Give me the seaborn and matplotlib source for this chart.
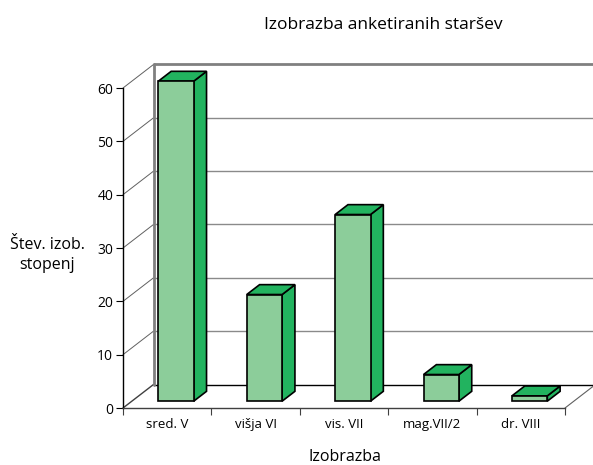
import matplotlib
matplotlib.use("Agg")
import matplotlib.pyplot as plt
import seaborn as sns
from matplotlib.patches import Polygon

# data
categories = ["sred. V", "višja VI", "vis. VII", "mag.VII/2", "dr. VIII"]
values = [60, 20, 35, 5, 1]
y_ticks = [0, 10, 20, 30, 40, 50, 60]

title = "Izobrazba anketiranih staršev"
x_label = "Izobrazba"
y_label = "Štev. izob.\nstopenj"

front_color = "#8ccd9a"
side_color = "#22b35f"

sns.set_style("white")
plt.rcParams['font.family'] = ['Open Sans', 'DejaVu Sans']
plt.rcParams['text.color'] = "black"
plt.rcParams['xtick.color'] = "black"
plt.rcParams['ytick.color'] = "black"

fig = plt.figure(figsize=(5.93, 4.65), dpi=100)
# axes = front plane of the 3d box
ax = fig.add_axes([123 / 593, 57 / 465, 442 / 593, 320 / 465])
ax.set_xlim(-0.5, len(categories) - 0.5)
ax.set_ylim(0, 60)

# depth of the box in data units (about 30 px right, 24 px up)
depth_x = 30.5 / 88.4
depth_y = 23.5 / (320 / 60)
bar_front = 0.29
bar_back = 0.71

# back wall, gridlines and side wall
x0 = -0.5
x_end = len(categories) - 0.5
for v in y_ticks:
    if v == 0:
        ax.plot([x0 + depth_x, x_end + depth_x], [depth_y, depth_y], color="black", lw=1, clip_on=False, zorder=1)
    elif v == max(y_ticks):
        ax.plot([x0 + depth_x, x_end + depth_x], [v + depth_y, v + depth_y], color="#808080", lw=2, clip_on=False, zorder=1)
    else:
        ax.plot([x0 + depth_x, x_end + depth_x], [v + depth_y, v + depth_y], color="#8a8a8a", lw=1, clip_on=False, zorder=1)
    ax.plot([x0, x0 + depth_x], [v, v + depth_y], color="#404040" if v == 0 else "#606060",
            lw=1 if v == 0 else 0.7, clip_on=False, zorder=1)
ax.plot([x0 + depth_x, x0 + depth_x], [depth_y, max(y_ticks) + depth_y], color="#808080", lw=2, clip_on=False, zorder=1)
ax.plot([x_end, x_end + depth_x], [0, depth_y], color="#606060", lw=0.8, clip_on=False, zorder=1)

# front faces of the bars
sns.barplot(x=categories, y=values, color=front_color, saturation=1, width=0.4,
            edgecolor="black", linewidth=1.2, ax=ax, zorder=3)

bx = (bar_back - bar_front) * depth_x
by = (bar_back - bar_front) * depth_y
for p in ax.patches:
    p.set_x(p.get_x() + bar_front * depth_x)
    p.set_y(bar_front * depth_y)
    p.set_clip_on(False)
    left = p.get_x()
    right = left + p.get_width()
    bottom = p.get_y()
    top = bottom + p.get_height()
    side = Polygon([(right, bottom), (right + bx, bottom + by), (right + bx, top + by), (right, top)],
                   closed=True, facecolor=side_color, edgecolor="black", lw=1.2, zorder=2.9, clip_on=False)
    cap = Polygon([(left, top), (right, top), (right + bx, top + by), (left + bx, top + by)],
                  closed=True, facecolor=side_color, edgecolor="black", lw=1.2, zorder=2.9, clip_on=False)
    ax.add_patch(side)
    ax.add_patch(cap)

# axes styling
for s in ["top", "right"]:
    ax.spines[s].set_visible(False)
ax.spines["left"].set_color("black")
ax.spines["left"].set_linewidth(1)
ax.spines["bottom"].set_color("#404040")
ax.spines["bottom"].set_linewidth(1)
ax.set_yticks(y_ticks)
ax.set_yticklabels([str(v) for v in y_ticks], fontsize=10)
ax.tick_params(axis="y", direction="out", length=5, width=0.8, color="black", left=True, pad=2)
ax.set_xticks(range(len(categories)))
ax.set_xticklabels(categories, fontsize=9.5)
ax.set_xticks([i - 0.5 for i in range(len(categories) + 1)], minor=True)
ax.tick_params(axis="x", which="major", length=0, pad=7)
ax.tick_params(axis="x", which="minor", direction="out", length=5, width=0.8, color="#404040", bottom=True)
ax.set_xlabel("")
ax.set_ylabel("")

fig.text(383 / 593, 1 - 25 / 465, title, ha="center", va="center", fontsize=12.5)
fig.text(345 / 593, 1 - 457 / 465, x_label, ha="center", va="center", fontsize=11.5)
fig.text(47 / 593, 1 - 255 / 465, y_label, ha="center", va="center", fontsize=11.5, linespacing=1.4)

fig.savefig("out.png", dpi=100)
